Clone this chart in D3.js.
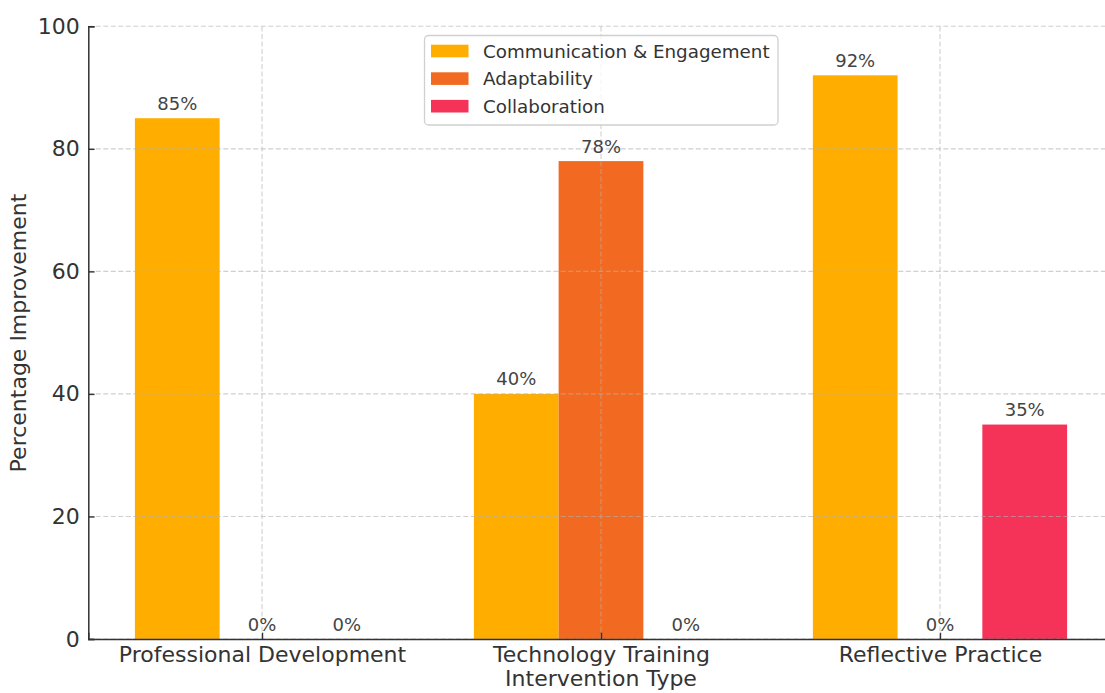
<!DOCTYPE html>
<html>
<head>
<meta charset="utf-8">
<script src="https://cdn.jsdelivr.net/npm/d3@7"></script>
<style>
  html, body { margin: 0; padding: 0; background: #fff; }
  svg { display: block; font-family: "DejaVu Sans", sans-serif; }
</style>
</head>
<body>
<svg id="chart" width="1105" height="693"></svg>
<script>
const categories = ["Professional Development", "Technology Training", "Reflective Practice"];
const seriesNames = ["Communication & Engagement", "Adaptability", "Collaboration"];
const communication = [85, 40, 92];
const adaptability = [0, 78, 0];
const collaboration = [0, 0, 35];
const yTicks = [0, 20, 40, 60, 80, 100];
const colors = ["#ffae00", "#f26a21", "#f53257"];

const seriesValues = [communication, adaptability, collaboration];
const barW = 0.25;

const svg = d3.select("#chart");
const x = d3.scaleLinear().domain([-0.5125, 2.5125]).range([88.3, 1113.7]);
const y = d3.scaleLinear().domain([0, 100]).range([639, 26.3]);

// bars
seriesValues.forEach((vals, s) => {
  svg.append("g").selectAll("rect").data(vals).join("rect")
    .attr("x", (d, i) => x(i + (s - 1) * barW - barW / 2))
    .attr("width", (d, i) => x(i + (s - 1) * barW + barW / 2) - x(i + (s - 1) * barW - barW / 2))
    .attr("y", d => y(d))
    .attr("height", d => y(0) - y(d))
    .attr("fill", colors[s]);
});

// grid (on top of bars)
const grid = svg.append("g").attr("stroke", "#b0b0b0").attr("stroke-opacity", 0.6)
  .attr("stroke-width", 1.1).attr("stroke-dasharray", "5,2.5");
grid.selectAll(".gy").data(yTicks).join("line")
  .attr("x1", x(-0.5125)).attr("x2", x(2.5125))
  .attr("y1", d => y(d)).attr("y2", d => y(d));
grid.selectAll(".gx").data(categories).join("line")
  .attr("x1", (d, i) => x(i)).attr("x2", (d, i) => x(i))
  .attr("y1", y(0)).attr("y2", y(100));

// value labels
seriesValues.forEach((vals, s) => {
  svg.append("g").selectAll("text").data(vals).join("text")
    .attr("x", (d, i) => x(i + (s - 1) * barW))
    .attr("y", d => y(d) - 8.5)
    .attr("text-anchor", "middle")
    .attr("font-size", 18).attr("fill", "#444")
    .text(d => d + "%");
});

// axes
const yAxis = d3.axisLeft(y).tickValues(yTicks).tickSize(-6.3).tickPadding(8.5);
const gy = svg.append("g").attr("transform", `translate(${x(-0.5125)},0)`).call(yAxis);
gy.select(".domain").attr("stroke", "#333").attr("stroke-width", 1.5);
gy.selectAll(".tick line").attr("stroke", "#333").attr("stroke-width", 1.4);
gy.selectAll(".tick text").attr("font-size", 22).attr("fill", "#333")
  .attr("font-family", "DejaVu Sans, sans-serif");

const xAxis = d3.axisBottom(x).tickValues([0, 1, 2]).tickFormat(i => categories[i]).tickSize(-6.3).tickPadding(7);
const gx = svg.append("g").attr("transform", `translate(0,${y(0)})`).call(xAxis);
gx.select(".domain").attr("stroke", "#333").attr("stroke-width", 1.5);
gx.selectAll(".tick line").attr("stroke", "#333").attr("stroke-width", 1.4);
gx.selectAll(".tick text").attr("font-size", 22).attr("fill", "#333")
  .attr("font-family", "DejaVu Sans, sans-serif");

// axis titles
svg.append("text").attr("x", x(1)).attr("y", 686)
  .attr("text-anchor", "middle").attr("font-size", 22).attr("fill", "#333")
  .text("Intervention Type");
svg.append("text").attr("transform", `translate(26,${333}) rotate(-90)`)
  .attr("text-anchor", "middle").attr("font-size", 22).attr("fill", "#333")
  .text("Percentage Improvement");

// legend
const lg = svg.append("g");
lg.append("rect").attr("x", 424.5).attr("y", 35.5).attr("width", 353.5).attr("height", 89.5)
  .attr("rx", 4).attr("fill", "#fff").attr("fill-opacity", 0.8)
  .attr("stroke", "#d0d0d0").attr("stroke-width", 1.3);
seriesNames.forEach((name, s) => {
  const cy = 51 + s * 27.6;
  lg.append("rect").attr("x", 431).attr("y", cy - 6.3).attr("width", 37.5).attr("height", 12.6)
    .attr("fill", colors[s]);
  lg.append("text").attr("x", 483).attr("y", cy).attr("dy", "0.36em")
    .attr("font-size", 18.3).attr("fill", "#333").text(name);
});
</script>
</body>
</html>
